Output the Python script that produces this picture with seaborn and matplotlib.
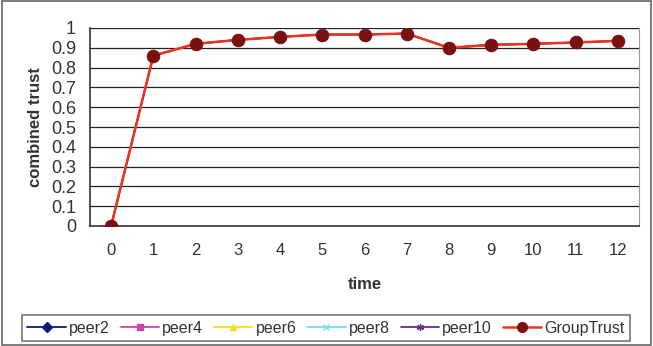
import numpy as np
import pandas as pd
import matplotlib
matplotlib.use("Agg")
import matplotlib.pyplot as plt
import seaborn as sns
from matplotlib.ticker import FixedLocator
from matplotlib.lines import Line2D

# values
time = list(range(13))
group_trust = [0.0, 0.86, 0.92, 0.94, 0.955, 0.967, 0.967, 0.972, 0.90, 0.915, 0.92, 0.927, 0.935]
# peer series are hidden under GroupTrust in the picture
peer_names = ["peer2", "peer4", "peer6", "peer8", "peer10"]
peer_colors = ["#0a1a7a", "#cc44aa", "#f0e020", "#70e0e8", "#6a2a8a"]
peer_markers = ["D", "s", "^", "x", (6, 2, 0)]
y_ticks = [0, 0.1, 0.2, 0.3, 0.4, 0.5, 0.6, 0.7, 0.8, 0.9, 1]

sns.set_style("white")
plt.rcParams["font.family"] = ["Liberation Sans", "DejaVu Sans"]

fig = plt.figure(figsize=(6.53, 3.46), dpi=100)
ax = fig.add_axes([90 / 653, 1 - 226 / 346, 549 / 653, 198 / 346])

df = pd.DataFrame({"time": time, "GroupTrust": group_trust})

for name, col, mk in zip(peer_names, peer_colors, peer_markers):
    sns.lineplot(data=df, x="time", y="GroupTrust", ax=ax, color=col, marker=mk,
                 markersize=4, linewidth=1.2, legend=False, zorder=2)

sns.lineplot(data=df, x="time", y="GroupTrust", ax=ax, color="#f03020", linewidth=1.8,
             marker="o", markersize=9, markerfacecolor="#7a1010", markeredgecolor="#7a1010",
             legend=False, zorder=3)

ax.set_xlim(-0.5, 12.5)
ax.set_ylim(0, 1)
ax.set_yticks(y_ticks)
ax.set_yticklabels([f"{v:g}" for v in y_ticks])
ax.set_xticks(time)
ax.xaxis.set_minor_locator(FixedLocator(np.arange(-0.5, 13, 1)))
ax.tick_params(axis="x", which="major", length=0, pad=12, labelsize=12, colors="#333333")
ax.tick_params(axis="x", which="minor", length=5, width=1, color="#333333", direction="out")
ax.tick_params(axis="y", length=5, width=1, color="#333333", direction="out", labelsize=13,
               labelcolor="#333333", pad=5)
for v in y_ticks[1:]:
    ax.axhline(v, color="#222222", linewidth=0.9, zorder=1)

for side in ["left", "bottom"]:
    ax.spines[side].set_color("#333333")
    ax.spines[side].set_linewidth(1.2)
ax.spines["top"].set_visible(False)
ax.spines["right"].set_color("#999999")

ax.set_xlabel("time", fontsize=12, fontweight="bold", color="#333333", labelpad=14)
ax.set_ylabel("combined trust", fontsize=12, fontweight="bold", color="#333333", labelpad=6)

handles = [Line2D([], [], color=c, marker=m, markersize=5, linewidth=1.3,
                  markerfacecolor=c, markeredgecolor=c)
           for c, m in zip(peer_colors, peer_markers)]
handles.append(Line2D([], [], color="#f03020", marker="o", markersize=7, linewidth=1.8,
                      markerfacecolor="#7a1010", markeredgecolor="#7a1010"))
labels = peer_names + ["GroupTrust"]
leg = fig.legend(handles, labels, ncol=6, loc="center", bbox_to_anchor=(326 / 653, 1 - 328 / 346),
                 frameon=True, fancybox=False, fontsize=11.5, handlelength=2.4,
                 handletextpad=0.2, columnspacing=0.68, borderaxespad=0, borderpad=0.35)
leg.get_frame().set_edgecolor("#555555")
leg.get_frame().set_linewidth(1.2)
for t in leg.get_texts():
    t.set_color("#333333")

# outer chart border
fig.patches.append(plt.Rectangle((0.003, 0.003), 0.994, 0.994, transform=fig.transFigure,
                                 fill=False, edgecolor="#666666", linewidth=1.2))

fig.savefig("out.png", dpi=100)
